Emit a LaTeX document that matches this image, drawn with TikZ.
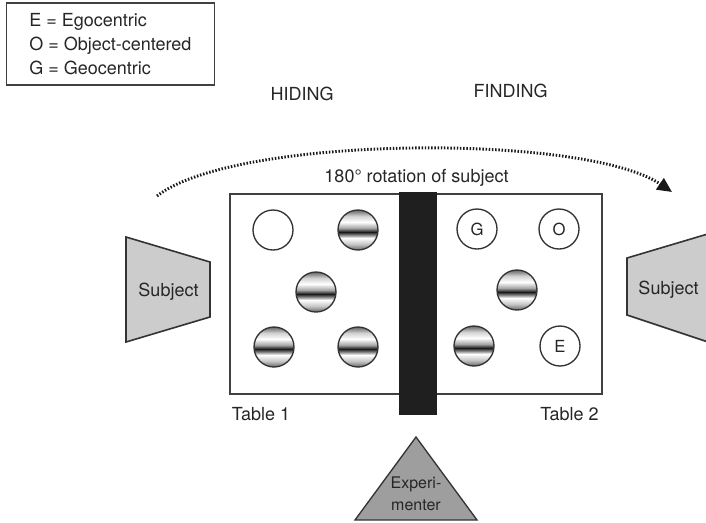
\documentclass[tikz,border=0pt]{standalone}
\usepackage{fontspec}
\setmainfont{TeX Gyre Heros}
\usetikzlibrary{arrows.meta}
\pgfdeclareverticalshading{band}{100bp}{color(0bp)=(black!60); color(25bp)=(black!60); color(32.5bp)=(black!22); color(40bp)=(white); color(44bp)=(black!50); color(47.5bp)=(black!90); color(52.5bp)=(black!35); color(60bp)=(white); color(67.5bp)=(black!18); color(75bp)=(black!60); color(100bp)=(black!60)}
\begin{document}
\begin{tikzpicture}[x=0.75pt,y=-0.75pt,
  txt/.style={font=\fontsize{13.5}{16}\selectfont, text=black!85, inner sep=0pt},
  tok/.style={circle, draw=black!80, line width=1pt, minimum size=30pt, inner sep=0pt, fill=white, font=\fontsize{12.5}{14}\selectfont, text=black!85},
  sph/.style={tok, shading=band},
  person/.style={fill=black!20, draw=black!80, line width=1.2pt},
  boss/.style={fill=black!38, draw=black!80, line width=1pt},
  rot/.style={line width=2.2pt, dash pattern=on 1.1pt off 1.3pt, black!90, -{Triangle[length=11pt,width=10pt]}}]
\useasboundingbox (0,0) rectangle (706,522);
\clip (0,0) rectangle (706,522);
% legend
\node[draw=black!75, line width=0.8pt, minimum width=156pt, minimum height=61.5pt, inner sep=0pt] (legend) at (110.5,44) {};
\node[txt, anchor=base west] (lE) at (29,26) {E = Egocentric};
\node[txt, anchor=base west] (lO) at (29,50) {O = Object-centered};
\node[txt, anchor=base west] (lG) at (29,74) {G = Geocentric};
% headings
\node[txt, anchor=base] (hid) at (302,100) {HIDING};
\node[txt, anchor=base] (fin) at (510.5,97) {FINDING};
\node[txt, anchor=base] (rotl) at (416.5,182) {180° rotation of subject};
% table
\node[draw=black!75, line width=0.9pt, minimum width=279pt, minimum height=150pt, inner sep=0pt] (table) at (416,294) {};
\node[fill=black!88, minimum width=28.5pt, minimum height=167pt, inner sep=0pt] (bar) at (418,303.5) {};
\node[txt, anchor=base] (t1) at (261,420) {Table 1};
\node[txt, anchor=base] (t2) at (569.5,420) {Table 2};
% tokens table 1
\node[tok] (a1) at (273,230) {};
\node[sph] (a2) at (358,230) {};
\node[sph] (a3) at (316,292) {};
\node[sph] (a4) at (274,347) {};
\node[sph] (a5) at (358,347) {};
% tokens table 2
\node[tok] (bG) at (477,229) {G};
\node[tok] (bO) at (559,229) {O};
\node[sph] (b3) at (517,290) {};
\node[sph] (b4) at (474,346) {};
\node[tok] (bE) at (560,346) {E};
% subjects
\draw[person] (126,237) -- (210,262) -- (210,317) -- (126,342) -- cycle;
\node[txt, anchor=base] (subL) at (168.5,296) {Subject};
\draw[person] (627,258) -- (711,233) -- (711,343) -- (627,315) -- cycle;
\node[txt, anchor=base] (subR) at (668.5,294) {Subject};
% experimenter
\draw[boss] (416,437) -- (477,520) -- (355,520) -- cycle;
\node[font=\fontsize{12}{16.5}\selectfont, text=black!85, align=center, inner sep=0pt, anchor=base] (exp) at (416,510) {Experi-\\menter};
% rotation arrow
\coordinate (arrS) at (157,196);
\coordinate (arrE) at (672,192);
\draw[rot] (arrS) .. controls (235,135) and (585,133) .. (arrE);
\end{tikzpicture}
\end{document}
